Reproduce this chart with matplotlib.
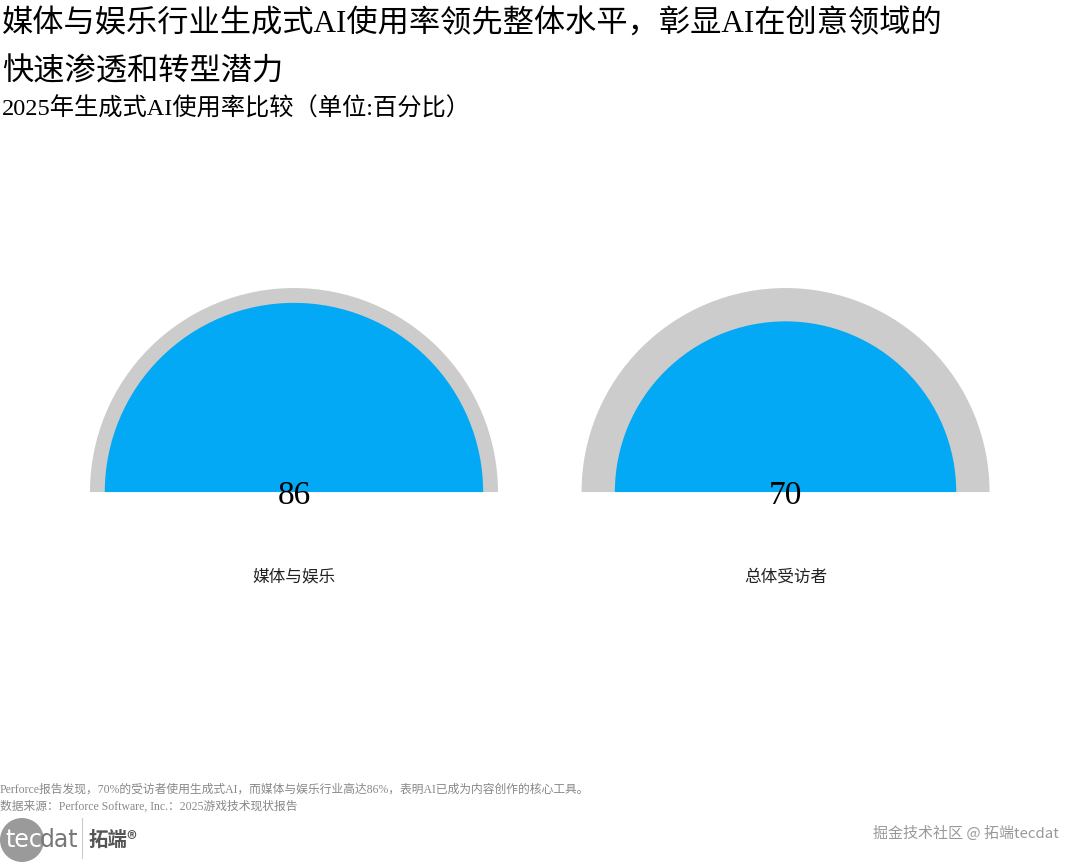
import numpy as np
import matplotlib.pyplot as plt
from matplotlib.patches import Wedge, Ellipse
from matplotlib.lines import Line2D

# 数据
categories = ['媒体与娱乐', '总体受访者']
values = [86, 70]

title = '媒体与娱乐行业生成式AI使用率领先整体水平，彰显AI在创意领域的\n快速渗透和转型潜力'
subtitle = '2025年生成式AI使用率比较（单位:百分比）'
note = 'Perforce报告发现，70%的受访者使用生成式AI，而媒体与娱乐行业高达86%，表明AI已成为内容创作的核心工具。'
source = '数据来源：Perforce Software, Inc.：2025游戏技术现状报告'

fam = ['Liberation Serif', 'Noto Sans CJK SC']
plt.rcParams['font.family'] = fam

fig = plt.figure(figsize=(10.8, 8.64), dpi=100)

# gauge area
ax = fig.add_axes([0, 0.2824, 1, 0.4282])
ax.set_xlim(-0.598, 1.599)
ax.set_ylim(-0.260, 0.492)
ax.set_aspect('equal')
ax.axis('off')

R = 0.415
for i, (cat, v) in enumerate(zip(categories, values)):
    ax.add_patch(Wedge((i, 0), R, 0, 180, color='#cccccc', lw=0))
    ax.add_patch(Wedge((i, 0), R * np.sqrt(v / 100), 0, 180, color='#03a9f4', lw=0))
    ax.text(i, -0.008, str(v), ha='center', va='center', fontsize=24, color='black')
    ax.text(i, -0.174, cat, ha='center', va='center', fontsize=12, color='#222222')

# titles
fig.text(0.002, 0.989, title, ha='left', va='top', fontsize=22.5, linespacing=1.85, color='black')
fig.text(0.002, 0.8874, subtitle, ha='left', va='top', fontsize=17.5, color='black')

# footer
fig.text(0.0, 0.086, note, ha='left', va='center', fontsize=8.5, color='#888888')
fig.text(0.0, 0.066, source, ha='left', va='center', fontsize=8.5, color='#888888')

# logo
fig.add_artist(Ellipse((22 / 1080, 24 / 864), 44 / 1080, 44 / 864, transform=fig.transFigure,
                       color='#9a9a9a', lw=0))
fig.text(5 / 1080, 24 / 864, 'tec', ha='left', va='center', fontsize=17, color='white',
         family='DejaVu Sans')
fig.text(40 / 1080, 24 / 864, 'dat', ha='left', va='center', fontsize=17, color='#777777',
         family='DejaVu Sans')
fig.add_artist(Line2D([82 / 1080, 82 / 1080], [6 / 864, 46 / 864], transform=fig.transFigure,
                      color='#cccccc', lw=0.8))
fig.text(89 / 1080, 24 / 864, '拓端®', ha='left', va='center', fontsize=14, color='#555555',
         family=['Noto Sans CJK SC', 'DejaVu Sans'], fontweight='bold')

fig.text(0.98, 31 / 864, '掘金技术社区 @ 拓端tecdat', ha='right', va='center', fontsize=10.8,
         color='#999999', family=['Noto Sans CJK SC', 'DejaVu Sans'])

fig.savefig('out.png', dpi=100)
